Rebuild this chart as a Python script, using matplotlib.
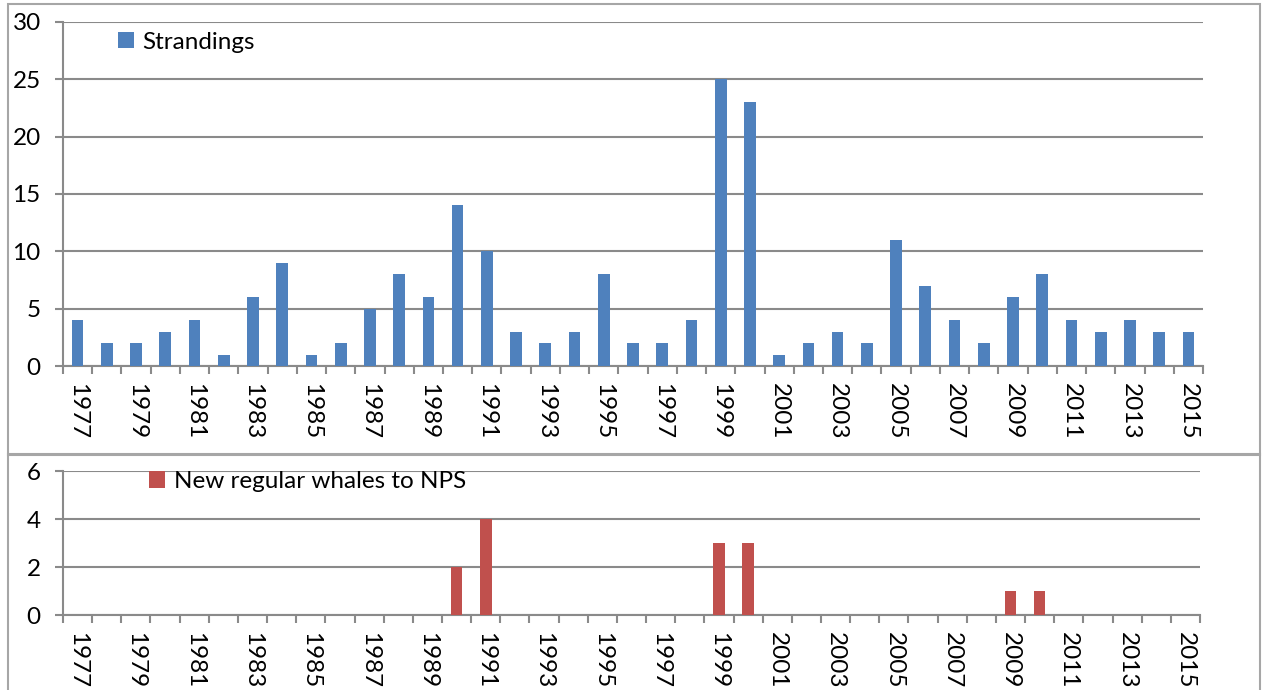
import matplotlib as mpl
mpl.use("Agg")
import matplotlib.pyplot as plt
from matplotlib.patches import Rectangle
import numpy as np

plt.rcParams["font.family"] = ["Lato", "DejaVu Sans"]

# data
years = list(range(1977, 2016))
strandings = [4, 2, 2, 3, 4, 1, 6, 9, 1, 2, 5, 8, 6, 14, 10, 3, 2, 3, 8, 2,
              2, 4, 25, 23, 1, 2, 3, 2, 11, 7, 4, 2, 6, 8, 4, 3, 4, 3, 3]
new_whales = [0, 0, 0, 0, 0, 0, 0, 0, 0, 0, 0, 0, 0, 2, 4, 0, 0, 0, 0, 0,
              0, 0, 3, 3, 0, 0, 0, 0, 0, 0, 0, 0, 1, 1, 0, 0, 0, 0, 0]
label_years = [str(y) for y in years[::2]]

BLUE = "#4F81BD"; RED = "#C0504D"; GRID = "#8a8a8a"; FRAME = "#a6a6a6"
FS = 17.5
W, H = 1264, 690
fig = plt.figure(figsize=(W / 100, H / 100), dpi=100)

def fx(px): return px / W
def fy(py): return 1 - py / H

# chart frames
fig.patches.append(Rectangle((fx(8), fy(455)), fx(1260) - fx(8), fy(4) - fy(455),
                   transform=fig.transFigure, fill=False, ec=FRAME, lw=1.5))
fig.patches.append(Rectangle((fx(8), fy(692)), fx(1260) - fx(8), fy(454) - fy(692),
                   transform=fig.transFigure, fill=False, ec=FRAME, lw=1.5))

def setup(ax, values, color, ymax, ystep, label, leg_xy):
    x = np.arange(len(years))
    ax.bar(x, values, width=0.4, color=color, zorder=3)
    ax.set_xlim(-0.5, len(years) - 0.5)
    ax.set_ylim(0, ymax)
    ax.set_yticks(np.arange(0, ymax + 0.1, ystep))
    ax.yaxis.grid(True, color=GRID, lw=1.5)
    ax.set_axisbelow(True)
    for s in ("top", "right"):
        ax.spines[s].set_visible(False)
    for s in ("left", "bottom"):
        ax.spines[s].set_color(GRID)
        ax.spines[s].set_linewidth(1.5)
    ax.tick_params(axis="y", length=6, width=1.5, color=GRID, pad=10, labelsize=FS)
    # boundary ticks (major) without labels, centre labels on minor ticks
    ax.set_xticks(np.arange(-0.5, len(years), 1.0))
    ax.set_xticklabels([])
    ax.tick_params(axis="x", which="major", length=6, width=1.5, color=GRID)
    ax.set_xticks(x[::2], minor=True)
    ax.set_xticklabels(label_years, minor=True, rotation=270, fontsize=FS)
    ax.tick_params(axis="x", which="minor", length=0, pad=12)
    ax.bar([0], [0], color=color, label=label)
    ax.legend(loc="upper left", bbox_to_anchor=leg_xy, frameon=False, fontsize=FS,
              handlelength=0.65, handleheight=0.65, handletextpad=0.35,
              borderaxespad=0, borderpad=0)

ax1 = fig.add_axes([fx(63), fy(366), fx(1203) - fx(63), fy(22) - fy(366)])
setup(ax1, strandings, BLUE, 30, 5, "Strandings", (0.048, 0.972))

ax2 = fig.add_axes([fx(63), fy(615), fx(1200) - fx(63), fy(471) - fy(615)])
setup(ax2, new_whales, RED, 6, 2, "New regular whales to NPS", (0.076, 1.0))

fig.savefig("out.png", dpi=100)
